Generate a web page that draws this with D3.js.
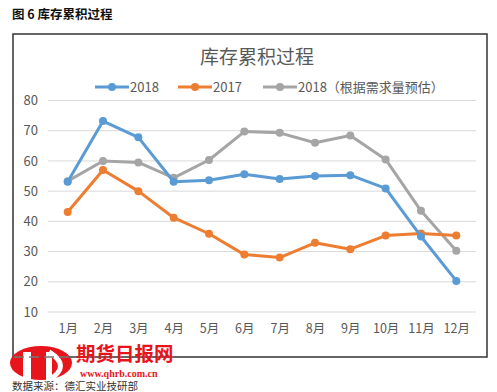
<!DOCTYPE html>
<html><head><meta charset="utf-8">
<script src="https://cdn.jsdelivr.net/npm/d3@7"></script>
<style>body{margin:0;background:#fff;}svg{display:block;}</style>
</head><body>
<script>
const months = ["1月","2月","3月","4月","5月","6月","7月","8月","9月","10月","11月","12月"];
const s2018 = [53.1,73.2,67.8,53.1,53.6,55.6,54,55,55.3,50.9,35,20.3];
const s2017 = [43.1,57,50,41.2,35.9,29,28,32.9,30.8,35.3,36,35.3];
const s2018est = [53.3,60,59.5,54.4,60.3,69.7,69.3,66,68.4,60.5,43.5,30.3];
const yTicks = [10,20,30,40,50,60,70,80];
const seriesNames = ["2018","2017","2018（根据需求量预估）"];
const colors = ["#5B9BD5","#ED7D31","#A5A5A5"];

const W=497,H=392;
const svg=d3.select("body").append("svg").attr("width",W).attr("height",H);
const font="'Noto Sans CJK SC','Noto Sans',sans-serif";

svg.append("text").attr("x",12).attr("y",19).attr("font-family",font).attr("font-weight","bold")
  .attr("font-size",12.5).attr("fill","#111").text("图 6  库存累积过程");

svg.append("rect").attr("x",13).attr("y",34).attr("width",474).attr("height",323)
  .attr("fill","#fff").attr("stroke","#333").attr("stroke-width",1.5);

svg.append("text").attr("x",257).attr("y",64).attr("text-anchor","middle").attr("font-family",font)
  .attr("font-size",19).attr("fill","#595959").text("库存累积过程");

const x=d3.scalePoint().domain(months).range([67.7,456.3]);
const y=d3.scaleLinear().domain([10,80]).range([312,100.5]);

svg.append("g").selectAll("line").data(yTicks).join("line")
  .attr("x1",48).attr("x2",476).attr("y1",d=>y(d)).attr("y2",d=>y(d))
  .attr("stroke","#D9D9D9").attr("stroke-width",1);

const yAxis=svg.append("g").attr("transform","translate(38,0)")
  .call(d3.axisLeft(y).tickValues(yTicks).tickSize(0).tickPadding(0));
yAxis.select(".domain").remove();
yAxis.selectAll("text").attr("font-family",font).attr("font-size",13).attr("fill","#595959");

const xAxis=svg.append("g").attr("transform","translate(0,322)")
  .call(d3.axisBottom(x).tickSize(0).tickPadding(0));
xAxis.select(".domain").remove();
xAxis.selectAll("text").attr("font-family",font).attr("font-size",12.5).attr("fill","#595959").attr("dy","0.9em");

const data=[s2018,s2017,s2018est];
const line=d3.line().x((d,i)=>x(months[i])).y(d=>y(d));
[2,1,0].forEach(k=>{
  svg.append("path").datum(data[k]).attr("d",line).attr("fill","none")
    .attr("stroke",colors[k]).attr("stroke-width",3).attr("stroke-linejoin","round");
  svg.selectAll(null).data(data[k]).join("circle").attr("cx",(d,i)=>x(months[i])).attr("cy",d=>y(d))
    .attr("r",4).attr("fill",colors[k]);
});

// legend
const legX=[95,178,263];
seriesNames.forEach((n,k)=>{
  const lg=svg.append("g").attr("transform",`translate(${legX[k]},87)`);
  lg.append("line").attr("x1",0).attr("x2",34).attr("stroke",colors[k]).attr("stroke-width",3);
  lg.append("circle").attr("cx",17).attr("r",4).attr("fill",colors[k]);
  lg.append("text").attr("x",35).attr("y",0).attr("dy","0.35em").attr("font-family",font)
    .attr("font-size",13).attr("fill","#595959").text(n);
});

// source + watermark
svg.append("text").attr("x",12).attr("y",390).attr("font-family",font).attr("font-size",10.5)
  .attr("fill","#333").text("数据来源：德汇实业技研部");
const wm=svg.append("g");
wm.append("ellipse").attr("cx",41).attr("cy",363).attr("rx",31).attr("ry",17).attr("fill","#E8141B");
wm.append("rect").attr("x",23).attr("y",352).attr("width",8).attr("height",28).attr("fill","#fff");
wm.append("rect").attr("x",46).attr("y",352).attr("width",6).attr("height",28).attr("fill","#fff");
wm.append("path").attr("d","M49,352 Q72,366 49,380").attr("fill","none").attr("stroke","#fff").attr("stroke-width",5);
wm.append("line").attr("x1",14).attr("x2",76).attr("y1",357).attr("y2",357)
  .attr("stroke","#777").attr("stroke-width",1.5).attr("stroke-dasharray","10,5");
wm.append("text").attr("x",76).attr("y",361).attr("font-family",font).attr("font-weight","bold")
  .attr("font-size",19.5).attr("fill","#E8141B").text("期货日报网");
wm.append("text").attr("x",80).attr("y",377).attr("font-family","'Liberation Serif',serif").attr("font-weight","bold")
  .attr("font-size",10).attr("fill","#E8141B").text("www.qhrb.com.cn");
</script>
</body></html>
